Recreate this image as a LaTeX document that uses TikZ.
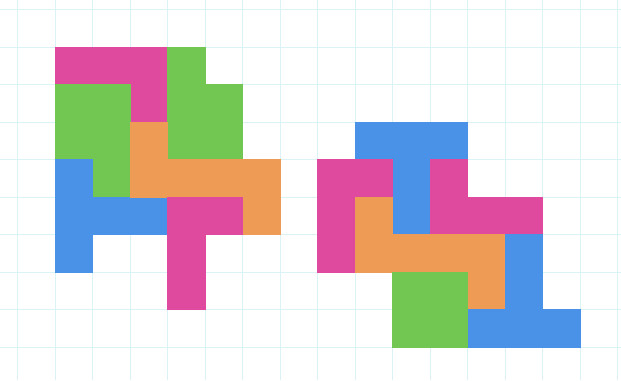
\documentclass[tikz,border=0pt]{standalone}
\usepackage{tikz}
\usetikzlibrary{calc}
\definecolor{pmag}{HTML}{E04A9E}
\definecolor{pgrn}{HTML}{72C652}
\definecolor{pblu}{HTML}{4A92E8}
\definecolor{pora}{HTML}{EE9C55}
\definecolor{gridc}{HTML}{DCF3F6}
\tikzset{
  sq/.style   = {line width=0.3pt},
  mag/.style  = {sq, fill=pmag, draw=pmag},
  grn/.style  = {sq, fill=pgrn, draw=pgrn},
  blu/.style  = {sq, fill=pblu, draw=pblu},
  ora/.style  = {sq, fill=pora, draw=pora},
  paper/.style= {draw=gridc, line width=0.4pt, step=0.6cm}
}
\newcommand{\piece}[2]{%
  \foreach \i/\j in {#2} \path[#1] (\i,-\j) rectangle ++(1,-1);}

\begin{document}
\begin{tikzpicture}[x=0.6cm,y=0.6cm]
  \useasboundingbox (-1.4667,-8.88) rectangle (15.093,1.2533);
  \fill[white] (-1.4667,-8.88) rectangle (15.093,1.2533);
  \draw[paper] (-1.4667,-8.88) grid (15.093,1.2533);
  % left group
  \piece{mag}{0/0,1/0,2/0,2/1}
  \piece{grn}{3/0,3/1,4/1,3/2,4/2}
  \piece{grn}{0/1,1/1,0/2,1/2,1/3}
  \piece{blu}{0/3,0/4,0/5,1/4,2/4}
  \piece{ora}{2/2,2/3,3/3,4/3,5/3,5/4}
  \piece{mag}{3/4,4/4,3/5,3/6}
  % right group
  \piece{blu}{8/2,9/2,10/2,9/3,9/4}
  \piece{mag}{7/3,8/3,7/4,7/5}
  \piece{mag}{10/3,10/4,11/4,12/4}
  \piece{ora}{8/4,8/5,9/5,10/5,11/5,11/6}
  \piece{blu}{12/5,12/6,11/7,12/7,13/7}
  \piece{grn}{9/6,10/6,9/7,10/7}
\end{tikzpicture}
\end{document}
